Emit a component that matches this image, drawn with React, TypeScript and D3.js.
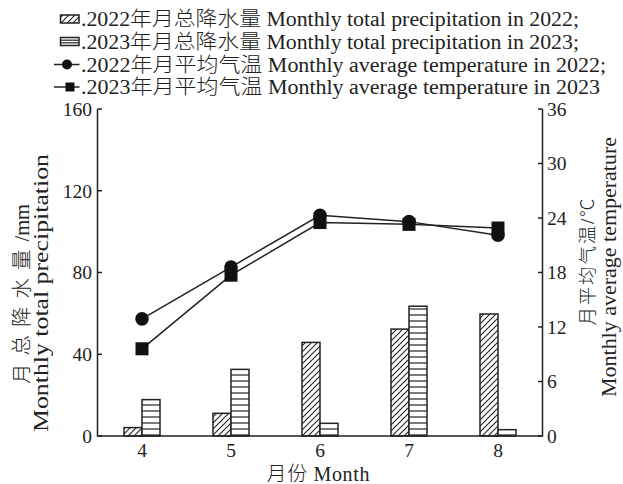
import React from "react";
import * as d3 from "d3";

const months = ["4", "5", "6", "7", "8"];
const series = ["2022", "2023"];
const precip2022 = [4.1, 11.1, 45.8, 52.3, 59.7];
const precip2023 = [17.8, 32.6, 6.2, 63.5, 3.1];
const temp2022 = [12.9, 18.6, 24.3, 23.6, 22.1];
const temp2023 = [9.6, 17.7, 23.5, 23.3, 22.9];
const leftTicks = [0, 40, 80, 120, 160];
const rightTicks = [0, 6, 12, 18, 24, 30, 36];
const legendLabels = [
  ".2022年月总降水量 Monthly total precipitation in 2022;",
  ".2023年月总降水量 Monthly total precipitation in 2023;",
  ".2022年月平均气温 Monthly average temperature in 2022;",
  ".2023年月平均气温 Monthly average temperature in 2023",
];
const xTitle = "月份 Month";
const leftTitleCN = "月总降水量/mm";
const leftTitleEN = "Monthly total precipitation";
const rightTitleCN = "月平均气温/℃";
const rightTitleEN = "Monthly average temperature";

const W = 623;
const H = 484;
const L = 97.5;
const R = 542.5;
const T = 109;
const B = 436;
const FONT = "'Liberation Serif', 'Times New Roman', 'Noto Sans CJK SC', serif";

export default function App() {
  const x = d3
    .scaleBand<string>()
    .domain(months)
    .range([L, R])
    .paddingInner(0.5955)
    .paddingOuter(0.29775);
  const x1 = d3.scaleBand<string>().domain(series).range([0, x.bandwidth()]);
  const yL = d3.scaleLinear().domain([0, 160]).range([B, T]);
  const yR = d3.scaleLinear().domain([0, 36]).range([B, T]);
  const cx = (m: string) => (x(m) as number) + x.bandwidth() / 2;

  const line = d3
    .line<number>()
    .x((_, i) => cx(months[i]))
    .y((d) => yR(d));

  const precip = [precip2022, precip2023];
  const fills = ["url(#hatch)", "url(#hstripe)"];

  const legendBaselines = [26, 49, 71.5, 94];
  const legendLengths = [498, 498, 525, 519];

  return (
    <svg
      width={W}
      height={H}
      style={{ display: "block", position: "absolute", left: 0, top: 0 }}
      fontFamily={FONT}
      fontWeight={300}
    >
      <defs>
        <pattern id="hatch" patternUnits="userSpaceOnUse" width={6} height={6}>
          <rect width={6} height={6} fill="#fff" />
          <path d="M0,6 L6,0 M-1,1 L1,-1 M5,7 L7,5" stroke="#222" strokeWidth={1.1} />
        </pattern>
        <pattern id="hstripe" patternUnits="userSpaceOnUse" width={6} height={6}>
          <rect width={6} height={6} fill="#fff" />
          <path d="M0,3 L6,3" stroke="#222" strokeWidth={1.2} />
        </pattern>
      </defs>
      <rect width={W} height={H} fill="#fff" />

      {/* bars */}
      {series.map((s, si) =>
        months.map((m, i) => {
          const bx = (x(m) as number) + (x1(s) as number);
          const by = yL(precip[si][i]);
          return (
            <rect
              key={s + m}
              x={bx}
              y={by}
              width={x1.bandwidth()}
              height={B - by}
              fill={fills[si]}
              stroke="#222"
              strokeWidth={1.5}
            />
          );
        })
      )}

      {/* lines */}
      <path d={line(temp2022) || ""} fill="none" stroke="#222" strokeWidth={1.5} />
      <path d={line(temp2023) || ""} fill="none" stroke="#222" strokeWidth={1.5} />
      {temp2023.map((d, i) => (
        <rect key={"s" + i} x={cx(months[i]) - 6.5} y={yR(d) - 6.5} width={13} height={13} fill="#111" />
      ))}
      {temp2022.map((d, i) => (
        <circle key={"c" + i} cx={cx(months[i])} cy={yR(d)} r={6.8} fill="#111" />
      ))}

      {/* axes */}
      <path d={`M${L},${T} V${B} H${R} V${T}`} fill="none" stroke="#222" strokeWidth={1.5} />
      {leftTicks.map((t) => (
        <g key={"l" + t}>
          <line x1={L} x2={L + 4.5} y1={yL(t)} y2={yL(t)} stroke="#222" strokeWidth={1.5} />
          <text x={L - 5.5} y={yL(t)} dy="0.35em" textAnchor="end" fontSize={19.5} fill="#222">
            {t}
          </text>
        </g>
      ))}
      {rightTicks.map((t) => (
        <g key={"r" + t}>
          <line x1={R - 4.5} x2={R} y1={yR(t)} y2={yR(t)} stroke="#222" strokeWidth={1.5} />
          <text x={R + 4.5} y={yR(t)} dy="0.35em" textAnchor="start" fontSize={19.5} fill="#222">
            {t}
          </text>
        </g>
      ))}
      {months.map((m) => (
        <text key={"x" + m} x={cx(m)} y={457} textAnchor="middle" fontSize={19.5} fill="#222">
          {m}
        </text>
      ))}
      <text x={318} y={481} textAnchor="middle" fontSize={20} fill="#222" textLength={103} lengthAdjust="spacing">
        {xTitle}
      </text>

      {/* axis titles */}
      <text transform="translate(29,294) rotate(-90)" textAnchor="middle" fontSize={20.5} fill="#222">
        <tspan letterSpacing={8}>{leftTitleCN.slice(0, 5)}</tspan>
        <tspan letterSpacing={0}>{leftTitleCN.slice(5)}</tspan>
      </text>
      <text
        transform="translate(48,293) rotate(-90)"
        textAnchor="middle"
        fontSize={21.5}
        fill="#222"
        textLength={278}
        lengthAdjust="spacingAndGlyphs"
      >
        {leftTitleEN}
      </text>
      <text
        transform="translate(594,262) rotate(-90)"
        textAnchor="middle"
        fontSize={18.5}
        fill="#222"
        textLength={127}
        lengthAdjust="spacing"
      >
        {rightTitleCN}
      </text>
      <text
        transform="translate(616,267) rotate(-90)"
        textAnchor="middle"
        fontSize={20.5}
        fill="#222"
        textLength={260}
        lengthAdjust="spacingAndGlyphs"
      >
        {rightTitleEN}
      </text>

      {/* legend */}
      <rect x={60.5} y={15} width={18.5} height={8} fill="url(#hatch)" stroke="#222" strokeWidth={1.5} />
      <rect x={60.5} y={37.5} width={18.5} height={8} fill="#fff" stroke="#222" strokeWidth={1.5} />
      <line x1={60.5} x2={79} y1={40.2} y2={40.2} stroke="#222" strokeWidth={1.2} />
      <line x1={60.5} x2={79} y1={42.8} y2={42.8} stroke="#222" strokeWidth={1.2} />
      <line x1={54} x2={79.5} y1={64.5} y2={64.5} stroke="#222" strokeWidth={1.5} />
      <circle cx={67} cy={64.5} r={5} fill="#111" />
      <line x1={54} x2={79.5} y1={87} y2={87} stroke="#222" strokeWidth={1.5} />
      <rect x={65.5} y={82.5} width={9} height={9} fill="#111" />
      {legendLabels.map((lab, i) => (
        <text
          key={"lg" + i}
          x={81}
          y={legendBaselines[i]}
          fontSize={20}
          fill="#222"
          textLength={legendLengths[i]}
          lengthAdjust="spacingAndGlyphs"
        >
          {lab}
        </text>
      ))}
    </svg>
  );
}
